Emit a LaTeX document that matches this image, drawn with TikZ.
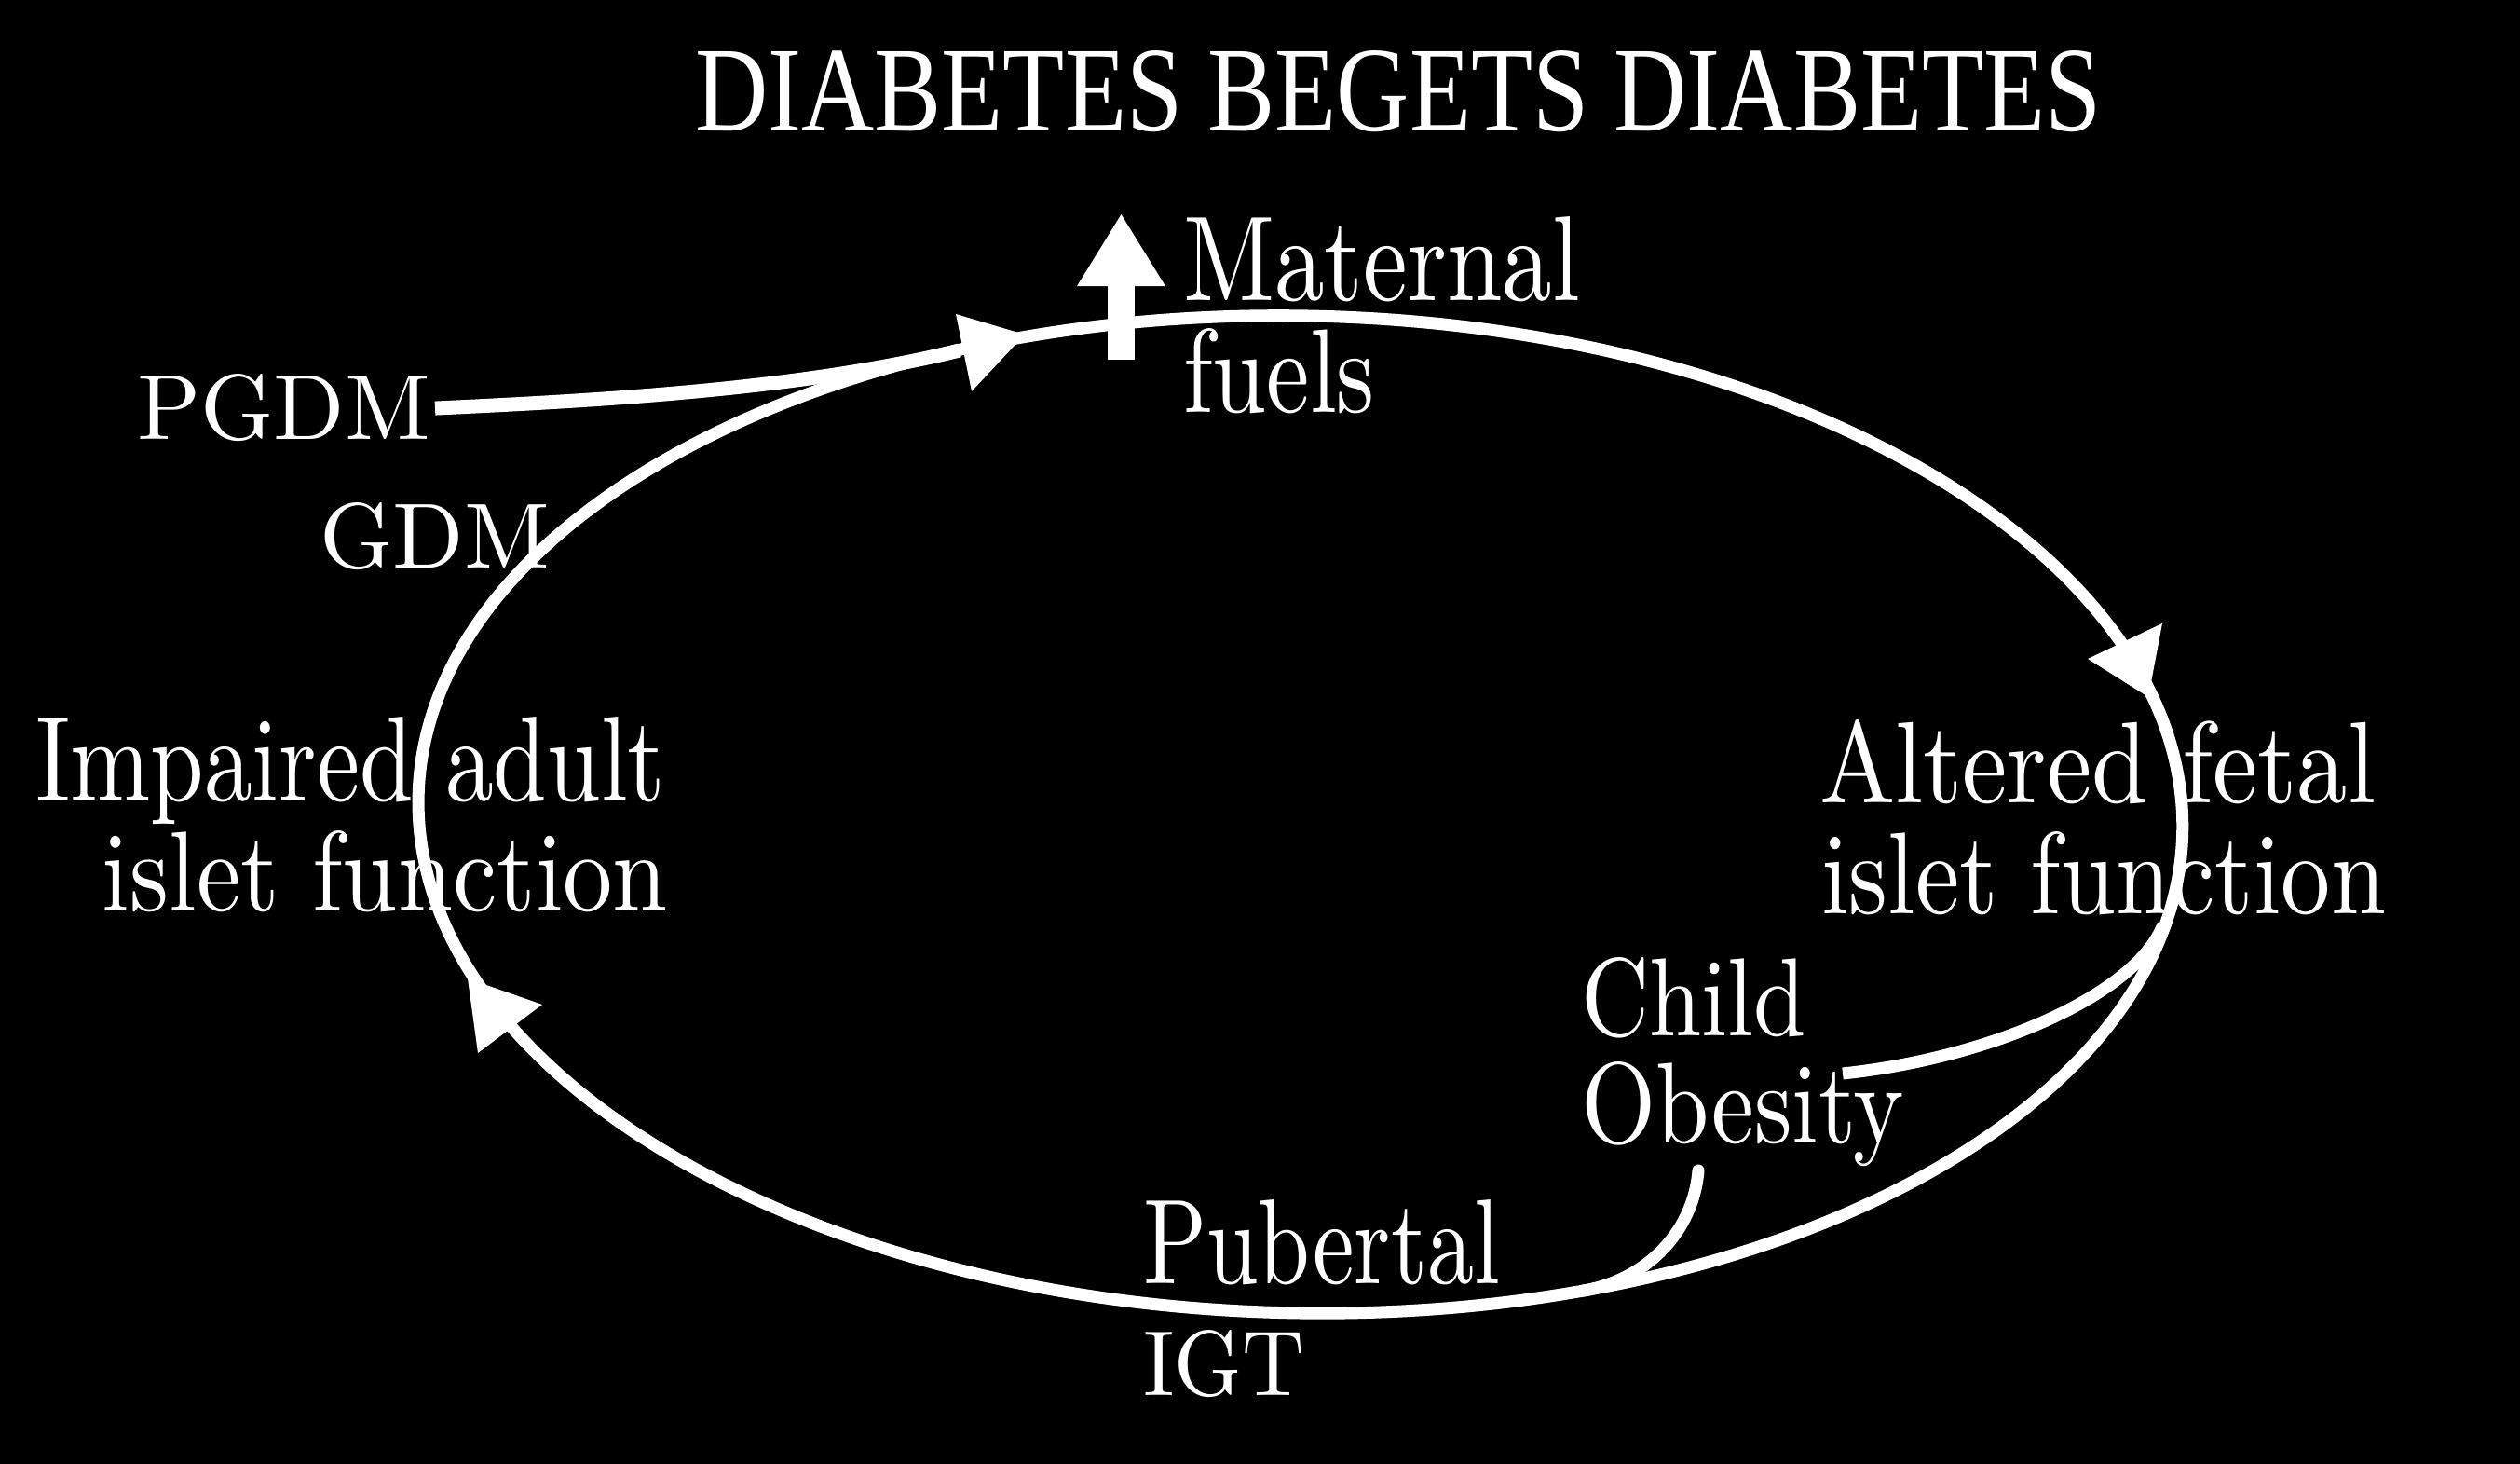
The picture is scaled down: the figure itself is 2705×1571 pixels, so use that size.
\documentclass[tikz,border=0pt]{standalone}
\usepackage{fontspec}
\usepackage{graphicx}
\newfontfamily\titlefont{Liberation Serif}
\usetikzlibrary{arrows.meta}
\newlength\pxu
\setlength\pxu{0.01cm}
\newcommand\mylbl[3]{\resizebox{#1\pxu}{#2\pxu}{#3}}
\begin{document}
\begin{tikzpicture}[x=0.01cm, y=-0.01cm,
  lbl/.style={anchor=base west, inner sep=0pt, outer sep=0pt, text=white},
  cyc/.style={draw=white, line width=0.13cm},
  branch/.style={draw=white, line width=0.13cm},
  head/.style={fill=white}]
\fill[black] (0,0) rectangle (2705,1571);
\useasboundingbox (0,0) rectangle (2705,1571);

% the cycle
\coordinate (ctr) at (1396,874);
\draw[cyc, rotate around={-1.15:(ctr)}] (ctr) ellipse [x radius=947, y radius=535];

% labels
\node[lbl] (title) at (746,141) {\mylbl{1510}{86}{\titlefont DIABETES BEGETS DIABETES}};
\node[lbl] (maternal) at (1270,323) {\mylbl{426}{90}{Maternal}};
\node[lbl] (fuels) at (1270,443) {\mylbl{206}{90}{fuels}};
\node[lbl] (pgdm) at (147,472) {\mylbl{315}{70}{PGDM}};
\node[lbl] (gdm) at (343,610) {\mylbl{247}{70}{GDM}};
\node[lbl] (impaired) at (38,860) {\mylbl{676}{90}{Impaired adult}};
\node[lbl] (isletL) at (110,978) {\mylbl{607}{86}{islet function}};
\node[lbl] (altered) at (1953,862) {\mylbl{597}{89}{Altered fetal}};
\node[lbl] (isletR) at (1955,981) {\mylbl{606}{88}{islet function}};
\node[lbl] (child) at (1697,1112) {\mylbl{242}{84}{Child}};
\node[lbl] (obesity) at (1697,1227) {\mylbl{347}{87}{Obesity}};
\node[lbl] (pubertal) at (1227,1378) {\mylbl{383}{90}{Pubertal}};
\node[lbl] (igt) at (1227,1498) {\mylbl{173}{70}{IGT}};

% branches
\coordinate (pgdmJoin) at (1030,376);
\draw[branch, line width=0.15cm] ([xshift=0.05cm]pgdm.east) .. controls (640,430) and (860,418) .. (pgdmJoin);
\coordinate (childJoin) at (2322,992);
\coordinate (childEnd) at (1978,1152);
\draw[branch] (childJoin) .. controls (2294,1066) and (2140,1135) .. (childEnd);
\coordinate (obStart) at (1823,1256);
\coordinate (obJoin) at (1700,1385);
\draw[branch, line cap=round] (obStart) .. controls (1818,1320) and (1769,1373) .. (obJoin);

% arrowheads on the cycle
\fill[head] (1100,359) -- (1026,337) -- (1043,420) -- cycle;
\fill[head] (2306,748) -- (2321,669) -- (2241,707) -- cycle;
\fill[head] (502,1050) -- (582,1078) -- (513,1130) -- cycle;

% maternal fuels up arrow
\coordinate (upBot) at (1203.5,386);
\coordinate (upTip) at (1203.5,229);
\draw[white, line width=0.29cm, -{Triangle[length=0.78cm,width=0.89cm]}] (upBot) -- (upTip);
\end{tikzpicture}
\end{document}
